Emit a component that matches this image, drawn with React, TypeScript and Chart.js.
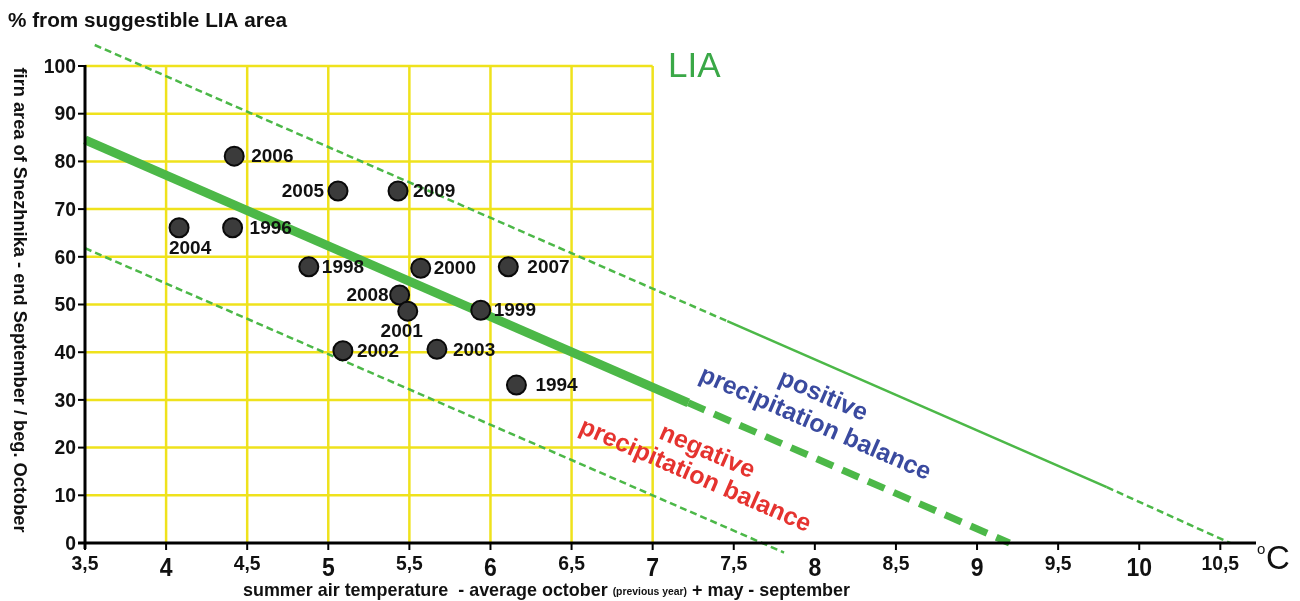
import { useEffect, useRef } from "react";
import { Chart, registerables } from "chart.js";

Chart.register(...registerables);

// ---- data ----
const years = ["2006", "2005", "2009", "2004", "1996", "1998", "2000", "2007", "2008", "2001", "1999", "2002", "2003", "1994"];
const temperature = [4.42, 5.06, 5.43, 4.08, 4.41, 4.88, 5.57, 6.11, 5.44, 5.49, 5.94, 5.09, 5.67, 6.16];
const firnArea = [81.1, 73.8, 73.8, 66.1, 66.1, 57.9, 57.6, 57.9, 52.0, 48.6, 48.8, 40.3, 40.6, 33.1];

const trendX = [3.5, 7.22];
const trendY = [84.5, 29.4];
const trendExtX = [7.22, 9.2];
const trendExtY = [29.4, 0];

const upperDashX = [3.56, 7.46];
const upperDashY = [104.4, 46.5];
const upperSolidX = [7.46, 9.8];
const upperSolidY = [46.5, 11.7];
const upperEndX = [9.8, 10.56];
const upperEndY = [11.7, 0];

const lowerX = [3.5, 7.81];
const lowerY = [61.8, -2];

const xTicks = [3.5, 4, 4.5, 5, 5.5, 6, 6.5, 7, 7.5, 8, 8.5, 9, 9.5, 10, 10.5];
const yTicks = [0, 10, 20, 30, 40, 50, 60, 70, 80, 90, 100];
const gridXMax = 7;

const titleText = "% from suggestible LIA area";
const yTitleText = "firn area of Snezhnika - end September / beg. October";
const xTitleA = "summer air temperature  - average october ";
const xTitleSmall = "(previous year)";
const xTitleB = " + may - september";

// ---- styles ----
const GREEN = "#4cb848";
const YELLOW = "#efe21c";
const FONT = '"Liberation Sans", Arial, sans-serif';

const pts = (xs: number[], ys: number[]) => xs.map((v, i) => ({ x: v, y: ys[i] }));

function labelPlacement(year: string): [number, number, CanvasTextAlign] {
  switch (year) {
    case "2005": return [-14, 0, "right"];
    case "2008": return [-11, 0, "right"];
    case "2004": return [11, 20, "center"];
    case "2001": return [-6, 20, "center"];
    case "2006": return [17, 0, "left"];
    case "1996": return [17, 0, "left"];
    case "1994": return [19, 0, "left"];
    case "2007": return [19, 0, "left"];
    case "2003": return [16, 0, "left"];
    case "2009": return [15, 0, "left"];
    case "2002": return [14, 0, "left"];
    default: return [13, 0, "left"];
  }
}

function fitText(ctx: CanvasRenderingContext2D, text: string, x: number, y: number, width: number, align: CanvasTextAlign) {
  const w = ctx.measureText(text).width;
  const s = width / w;
  ctx.save();
  ctx.translate(x, y);
  ctx.scale(s, 1);
  ctx.textAlign = align;
  ctx.fillText(text, 0, 0);
  ctx.restore();
}

const fmt = (v: number) => String(v).replace(".", ",");

const customPlugin = {
  id: "customDraw",
  beforeDatasetsDraw(chart: any) {
    const { ctx, scales } = chart;
    const xs = scales.x, ys = scales.y;
    const x0 = xs.getPixelForValue(3.5), x1 = xs.getPixelForValue(gridXMax);
    const yb = ys.getPixelForValue(0), yt = ys.getPixelForValue(100);
    ctx.save();
    ctx.strokeStyle = YELLOW;
    ctx.lineWidth = 2.5;
    for (const v of yTicks) {
      if (v <= 0) continue;
      const py = ys.getPixelForValue(v);
      ctx.beginPath(); ctx.moveTo(x0, py); ctx.lineTo(x1, py); ctx.stroke();
    }
    for (const v of xTicks) {
      if (v <= 3.5 || v > gridXMax) continue;
      const px = xs.getPixelForValue(v);
      ctx.beginPath(); ctx.moveTo(px, yb); ctx.lineTo(px, yt); ctx.stroke();
    }
    ctx.restore();
  },
  afterDatasetsDraw(chart: any) {
    const { ctx, scales } = chart;
    const xs = scales.x, ys = scales.y;
    const ax = xs.getPixelForValue(3.5);
    const ay = ys.getPixelForValue(0);
    const topY = ys.getPixelForValue(100);
    const rightX = xs.right;
    ctx.save();
    // axes
    ctx.strokeStyle = "#000";
    ctx.lineWidth = 3;
    ctx.beginPath(); ctx.moveTo(ax, topY - 1); ctx.lineTo(ax, ay + 6); ctx.stroke();
    ctx.beginPath(); ctx.moveTo(ax - 7, ay); ctx.lineTo(rightX, ay); ctx.stroke();
    ctx.lineWidth = 2;
    for (const v of yTicks) {
      const py = ys.getPixelForValue(v);
      ctx.beginPath(); ctx.moveTo(ax - 7, py); ctx.lineTo(ax, py); ctx.stroke();
    }
    for (const v of xTicks) {
      const px = xs.getPixelForValue(v);
      ctx.beginPath(); ctx.moveTo(px, ay); ctx.lineTo(px, ay + 7); ctx.stroke();
    }
    // y tick labels
    ctx.fillStyle = "#111";
    ctx.textAlign = "right";
    ctx.textBaseline = "middle";
    for (const v of yTicks) {
      ctx.font = `bold 21px ${FONT}`;
      const t = String(v);
      const w = ctx.measureText(t).width;
      ctx.save();
      ctx.translate(ax - 9, ys.getPixelForValue(v) + 1);
      ctx.scale(0.92, 1);
      ctx.fillText(t, 0, 0);
      ctx.restore();
      void w;
    }
    // x tick labels
    ctx.textAlign = "center";
    ctx.textBaseline = "alphabetic";
    for (const v of xTicks) {
      const isInt = Number.isInteger(v);
      ctx.font = isInt ? `bold 25px ${FONT}` : `bold 21px ${FONT}`;
      ctx.save();
      ctx.translate(xs.getPixelForValue(v), isInt ? ay + 33 : ay + 27);
      ctx.scale(0.92, 1);
      ctx.fillText(fmt(v), 0, 0);
      ctx.restore();
    }
    // degree C
    ctx.textAlign = "left";
    ctx.font = `15px ${FONT}`;
    ctx.fillText("o", 1257, ay + 11);
    ctx.font = `33px ${FONT}`;
    ctx.fillText("C", 1266, ay + 26);

    // titles
    ctx.font = `bold 20px ${FONT}`;
    ctx.textBaseline = "alphabetic";
    fitText(ctx, titleText, 8, 27, 279, "left");

    ctx.save();
    ctx.translate(19, 300);
    ctx.rotate(Math.PI / 2);
    ctx.font = `bold 19px ${FONT}`;
    ctx.textBaseline = "middle";
    fitText(ctx, yTitleText, 0, 0, 465, "center");
    ctx.restore();

    // x title with small part
    ctx.textBaseline = "alphabetic";
    const fBig = `bold 19px ${FONT}`;
    const fSmall = `bold 11px ${FONT}`;
    ctx.font = fBig;
    const wa = ctx.measureText(xTitleA).width;
    const wb = ctx.measureText(xTitleB).width;
    ctx.font = fSmall;
    const ws = ctx.measureText(xTitleSmall).width;
    const total = wa + wb + ws;
    const target = 607;
    const sc = target / total;
    ctx.save();
    ctx.translate(243, 596);
    ctx.scale(sc, 1);
    ctx.textAlign = "left";
    ctx.font = fBig;
    ctx.fillText(xTitleA, 0, 0);
    ctx.font = fSmall;
    ctx.fillText(xTitleSmall, wa, -1);
    ctx.font = fBig;
    ctx.fillText(xTitleB, wa + ws, 0);
    ctx.restore();

    // LIA
    ctx.fillStyle = "#3aa847";
    ctx.font = `35px ${FONT}`;
    ctx.textAlign = "left";
    ctx.fillText("LIA", 668, 77);

    // balance annotations
    const ang = (23.6 * Math.PI) / 180;
    const rot = (text: string, cx: number, cy: number, color: string) => {
      ctx.save();
      ctx.translate(cx, cy);
      ctx.rotate(ang);
      ctx.fillStyle = color;
      ctx.font = `bold 25px ${FONT}`;
      ctx.textAlign = "center";
      ctx.textBaseline = "middle";
      ctx.fillText(text, 0, 0);
      ctx.restore();
    };
    rot("positive", 823, 396, "#3a4a9f");
    rot("precipitation balance", 815, 424, "#3a4a9f");
    rot("negative", 707, 452, "#e5332f");
    rot("precipitation balance", 695, 476, "#e5332f");

    // point labels
    ctx.fillStyle = "#111";
    ctx.font = `bold 19px ${FONT}`;
    ctx.textBaseline = "middle";
    years.forEach((yr, i) => {
      const px = xs.getPixelForValue(temperature[i]);
      const py = ys.getPixelForValue(firnArea[i]);
      const [dx, dy, al] = labelPlacement(yr);
      ctx.textAlign = al;
      ctx.fillText(yr, px + dx, py + dy + 1);
    });
    ctx.restore();
  },
};

export default function App() {
  const ref = useRef<HTMLCanvasElement | null>(null);
  useEffect(() => {
    if (!ref.current) return;
    const lineDs = (data: any[], width: number, dash: number[]) => ({
      type: "scatter" as const,
      data,
      showLine: true,
      borderColor: GREEN,
      backgroundColor: GREEN,
      borderWidth: width,
      borderDash: dash,
      pointRadius: 0,
      fill: false,
      tension: 0,
      clip: false as any,
    });
    const chart = new Chart(ref.current, {
      type: "scatter",
      data: {
        datasets: [
          {
            label: "years",
            data: pts(temperature, firnArea),
            pointRadius: 9.5,
            pointBackgroundColor: "#3b3b3b",
            pointBorderColor: "#0a0a0a",
            pointBorderWidth: 2,
            showLine: false,
          } as any,
          lineDs(pts(trendX, trendY), 9, []),
          lineDs(pts(trendExtX, trendExtY), 7, [18, 10]),
          lineDs(pts(upperDashX, upperDashY), 2.5, [7, 4]),
          lineDs(pts(upperSolidX, upperSolidY), 2.5, []),
          lineDs(pts(upperEndX, upperEndY), 2.5, [7, 4]),
          lineDs(pts(lowerX, lowerY), 2.5, [7, 4]),
        ],
      },
      options: {
        responsive: false,
        animation: false,
        events: [],
        layout: { padding: { left: 85, top: 66, right: 44, bottom: 58 } },
        scales: {
          x: { type: "linear", min: 3.5, max: 10.72, display: false },
          y: { type: "linear", min: 0, max: 100, display: false },
        },
        plugins: { legend: { display: false }, tooltip: { enabled: false } },
      },
      plugins: [customPlugin],
    });
    return () => chart.destroy();
  }, []);
  return (
    <div style={{ position: "fixed", left: 0, top: 0, width: 1300, height: 601, background: "#fff" }}>
      <canvas ref={ref} width={1300} height={601} />
    </div>
  );
}
